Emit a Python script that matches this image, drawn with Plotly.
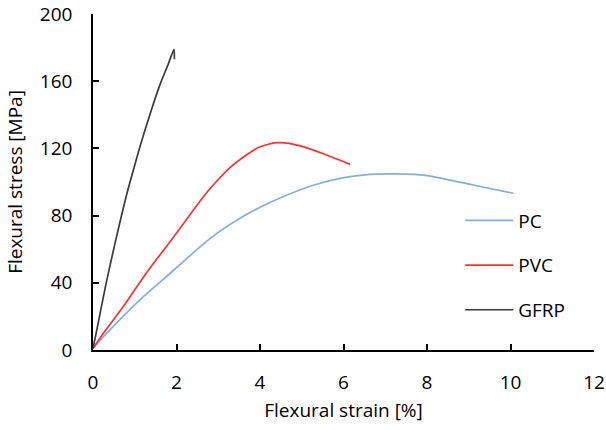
import plotly.graph_objects as go

# PC (blue)
pc_strain = [0, 0.33, 1.13, 1.68, 2.0, 2.64, 3.0, 3.52, 4.0, 4.48, 5.2, 5.92, 6.51, 7.11, 7.83, 8.23, 9.11, 10.07]
pc_stress = [1, 10, 30, 42, 49, 63, 70, 78.4, 85, 90.5, 97.5, 102.2, 104.2, 104.8, 104.2, 102.8, 98.2, 93.3]

# PVC (red)
pvc_strain = [0, 0.25, 0.73, 1.17, 1.37, 1.8, 2.16, 2.5, 2.75, 3.0, 3.3, 3.7, 3.96, 4.2, 4.4, 4.7, 4.96, 5.5, 6.16]
pvc_stress = [1, 10, 26, 42, 49, 63, 75, 86.5, 94.5, 101.5, 109, 116.5, 120.5, 122.5, 123.4, 123, 121.5, 117, 110.5]

# GFRP (black)
gfrp_strain = [0, 0.1, 0.3, 0.55, 0.77, 0.92, 1.13, 1.40, 1.62, 1.80, 1.94, 1.95]
gfrp_stress = [1, 13, 38, 66, 89, 103, 121.5, 143, 159, 170, 179, 173]

x_ticks = [0, 2, 4, 6, 8, 10, 12]
y_ticks = [0, 40, 80, 120, 160, 200]

FONT = "Open Sans"
FS = 19

fig = go.Figure()
series = [
    ("PC", pc_strain, pc_stress, "#7eb0e2"),
    ("PVC", pvc_strain, pvc_stress, "#ff3030"),
    ("GFRP", gfrp_strain, gfrp_stress, "#3a3a3a"),
]
for name, xs, ys, col in series:
    fig.add_trace(go.Scatter(
        x=xs, y=ys, mode="lines", name=name, legendgroup=name,
        line=dict(color=col, width=1.7, shape="spline", smoothing=0.6),
    ))

axis_common = dict(
    showgrid=False, zeroline=False, showline=True, linecolor="black", linewidth=1.5,
    ticks="inside", ticklen=6, tickwidth=1.5, tickcolor="black",
    tickfont=dict(family=FONT, size=FS, color="black"),
    automargin=False,
)

fig.update_layout(
    width=606, height=430,
    margin=dict(l=93, r=12, t=14, b=80),
    paper_bgcolor="white", plot_bgcolor="white",
    font=dict(family=FONT, size=FS, color="black"),
    xaxis=dict(range=[0, 12], tickvals=x_ticks, ticklabelstandoff=14,
               title=dict(text="Flexural strain [%]", standoff=10, font=dict(family=FONT, size=FS)),
               **axis_common),
    yaxis=dict(range=[0, 200], tickvals=y_ticks, ticklabelstandoff=15,
               title=dict(text="Flexural stress [MPa]", standoff=12, font=dict(family=FONT, size=FS)),
               **axis_common),
    legend=dict(x=0.733, y=0.442, xanchor="left", yanchor="top", tracegroupgap=17,
                itemwidth=48,
                font=dict(family=FONT, size=FS, color="black"), bgcolor="rgba(0,0,0,0)"),
    showlegend=True,
)

fig.write_html("out.html", config={"displayModeBar": False},
               post_script="document.body.style.margin='0px';document.body.style.overflow='hidden';")
